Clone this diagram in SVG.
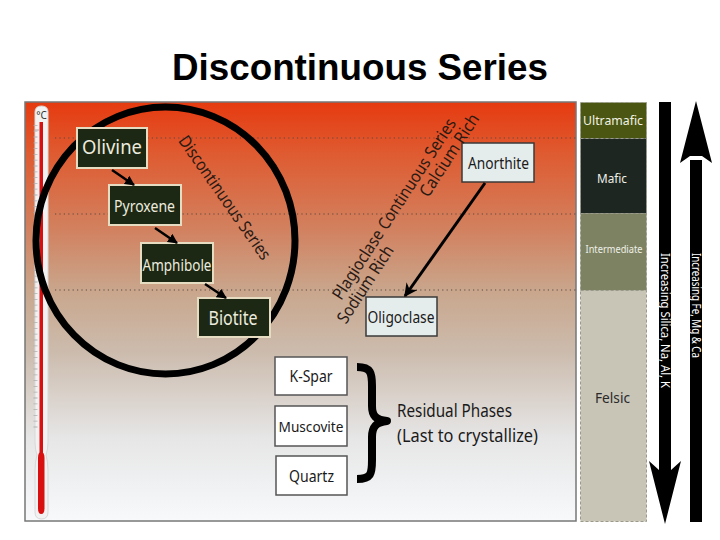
<svg xmlns="http://www.w3.org/2000/svg" width="720" height="540" viewBox="0 0 720 540">
<defs>
<linearGradient id="bg" x1="0" y1="0" x2="0" y2="1">
<stop offset="0" stop-color="#e63a10"/>
<stop offset="0.12" stop-color="#df5a30"/>
<stop offset="0.3" stop-color="#d2805e"/>
<stop offset="0.45" stop-color="#c9a68c"/>
<stop offset="0.6" stop-color="#ccbcae"/>
<stop offset="0.8" stop-color="#e6e6e6"/>
<stop offset="1" stop-color="#f7f9fb"/>
</linearGradient>
<marker id="ah" viewBox="0 0 10 10" refX="9" refY="5" markerWidth="4" markerHeight="4" orient="auto" markerUnits="strokeWidth">
<path d="M0,0 L10,5 L0,10 Z" fill="#000"/>
</marker>
<marker id="ah2" viewBox="0 0 10 10" refX="9" refY="5" markerWidth="5" markerHeight="4.5" orient="auto" markerUnits="strokeWidth">
<path d="M0,0 L10,5 L0,10 L3,5 Z" fill="#000"/>
</marker>
</defs>
<style>
.lbl{font-family:"Noto Sans","DejaVu Sans",sans-serif;text-anchor:middle}
.dark rect{fill:#1c2814;stroke:#e6dcc2;stroke-width:2}
.dark text{fill:#ecebdd}
.light rect{fill:#e5ecec;stroke:#3a3a3a;stroke-width:1.5}
.light text{fill:#1a1a1a}
.res rect{fill:#ffffff;stroke:#555;stroke-width:1.5}
.res text{fill:#1a1a1a}
.dot{stroke:#5a4a40;stroke-width:1.2;stroke-dasharray:1.2 3.2}
.band{stroke:#9a9a8a;stroke-width:1;stroke-dasharray:3 2}
.conn line{stroke:#000}
</style>
<rect width="720" height="540" fill="#ffffff"/>
<text x="360" y="80" font-family="'Liberation Sans',Arial,sans-serif" font-weight="bold" font-size="36" text-anchor="middle" textLength="376" lengthAdjust="spacingAndGlyphs" fill="#000">Discontinuous Series</text>

<g id="panel">
<rect x="25" y="102" width="551" height="419" fill="url(#bg)" stroke="#777" stroke-width="1.5"/>
<line class="dot" x1="55" y1="138" x2="576" y2="138"/>
<line class="dot" x1="55" y1="214" x2="576" y2="214"/>
<line class="dot" x1="55" y1="290" x2="576" y2="290"/>
</g>

<g id="thermometer">
<path d="M35,112 Q35,106 41.5,106 Q48,106 48,112 L48,442 Q48,450 46,455 Q48,462 48,470 L48,512 Q48,519 41.5,519 Q35,519 35,512 L35,470 Q35,462 37,455 Q35,450 35,442 Z" fill="#f2f2f2" stroke="#d8d8d8" stroke-width="1"/>
<rect x="39.5" y="122" width="3.5" height="335" fill="#d81010"/>
<path d="M38,458 Q38,452 41.2,452 Q44.5,452 44.5,458 L44.5,508 Q44.5,514 41.2,514 Q38,514 38,508 Z" fill="#d81010"/>
<line x1="35" y1="130" x2="39" y2="130" stroke="#aaa" stroke-width="1" stroke-dasharray="0"/>
<path d="M35.5,125 L35.5,430" stroke="#b0b0b0" stroke-width="4" stroke-dasharray="0.8 5" fill="none"/>
<text x="41.5" y="119" font-family="'Noto Sans',sans-serif" font-size="10" text-anchor="middle" fill="#333">°C</text>
</g>

<ellipse id="circle" cx="165.5" cy="240.5" rx="129.5" ry="133.5" fill="none" stroke="#000" stroke-width="7"/>

<g id="olivine" class="dark"><rect x="77" y="128" width="70" height="40"/><text class="lbl" x="112" y="154" font-size="19" textLength="60" lengthAdjust="spacingAndGlyphs">Olivine</text></g>
<g id="pyroxene" class="dark"><rect x="109" y="185" width="72" height="40"/><text class="lbl" x="144.5" y="212" font-size="16" textLength="61" lengthAdjust="spacingAndGlyphs">Pyroxene</text></g>
<g id="amphibole" class="dark"><rect x="141" y="243" width="72" height="40"/><text class="lbl" x="177" y="271" font-size="16" textLength="69" lengthAdjust="spacingAndGlyphs">Amphibole</text></g>
<g id="biotite" class="dark"><rect x="198" y="298" width="72" height="39"/><text class="lbl" x="233" y="325" font-size="19" textLength="49" lengthAdjust="spacingAndGlyphs">Biotite</text></g>

<g id="anorthite" class="light"><rect x="462" y="143" width="72" height="39"/><text class="lbl" x="498.5" y="169" font-size="16" textLength="61" lengthAdjust="spacingAndGlyphs">Anorthite</text></g>
<g id="oligoclase" class="light"><rect x="366" y="297" width="71" height="39"/><text class="lbl" x="401" y="323" font-size="16" textLength="67" lengthAdjust="spacingAndGlyphs">Oligoclase</text></g>

<g id="kspar" class="res"><rect x="275" y="357" width="72" height="38"/><text class="lbl" x="311" y="382" font-size="16" textLength="43" lengthAdjust="spacingAndGlyphs">K-Spar</text></g>
<g id="muscovite" class="res"><rect x="275" y="406" width="72" height="40"/><text class="lbl" x="311" y="432" font-size="15" textLength="65" lengthAdjust="spacingAndGlyphs">Muscovite</text></g>
<g id="quartz" class="res"><rect x="276" y="456" width="71" height="39"/><text class="lbl" x="311.5" y="482" font-size="16" textLength="45" lengthAdjust="spacingAndGlyphs">Quartz</text></g>

<g id="connectors" class="conn">
<line x1="112" y1="170" x2="134" y2="185" stroke-width="2.5" marker-end="url(#ah)"/>
<line x1="155" y1="228" x2="177" y2="243" stroke-width="2.5" marker-end="url(#ah)"/>
<line x1="205" y1="284" x2="226" y2="298" stroke-width="2.5" marker-end="url(#ah)"/>
<line x1="485" y1="183" x2="405" y2="296" stroke-width="3" marker-end="url(#ah2)"/>
</g>

<g id="labels" font-family="'Noto Sans','DejaVu Sans',sans-serif" fill="#2a1a14">
<text transform="translate(220,201) rotate(55)" font-size="17" text-anchor="middle" textLength="147" lengthAdjust="spacingAndGlyphs">Discontinuous Series</text>
<g transform="translate(399,212) rotate(-57)">
<text x="0" y="0" font-size="17" text-anchor="middle" textLength="212" lengthAdjust="spacingAndGlyphs">Plagioclase Continuous Series</text>
<text x="-79" y="17" font-size="17" text-anchor="middle" textLength="89" lengthAdjust="spacingAndGlyphs">Sodium Rich</text>
<text x="75" y="17" font-size="17" text-anchor="middle" textLength="95" lengthAdjust="spacingAndGlyphs">Calcium Rich</text>
</g>
</g>

<g id="brace">
<path d="M357,367 C371,367 372,373 372,386 L372,406 C372,416 376,420 387,421 C376,422 372,427 372,437 L372,460 C372,474 371,479 357,479" fill="none" stroke="#000" stroke-width="8" stroke-linejoin="round"/>
</g>
<g id="residual" font-family="'Noto Sans','DejaVu Sans',sans-serif" font-size="18" fill="#1a1a1a">
<text x="397" y="417" textLength="115" lengthAdjust="spacingAndGlyphs">Residual Phases</text>
<text x="397" y="442" textLength="141" lengthAdjust="spacingAndGlyphs">(Last to crystallize)</text>
</g>

<g id="scale" font-family="'Noto Sans','DejaVu Sans',sans-serif" text-anchor="middle">
<g id="ultramafic"><rect x="580.5" y="102.5" width="66" height="36" fill="#4a5612" class="band" stroke="#d8d8b0"/><text x="613" y="125" font-size="13" fill="#f2f2e4" textLength="60" lengthAdjust="spacingAndGlyphs">Ultramafic</text></g>
<g id="mafic"><rect x="580.5" y="138.5" width="66" height="75" fill="#1e2622" class="band" stroke="#3a403a"/><text x="612" y="183" font-size="13" fill="#f0f0e8" textLength="30" lengthAdjust="spacingAndGlyphs">Mafic</text></g>
<g id="intermediate"><rect x="580.5" y="213.5" width="66" height="77" fill="#7c8262" class="band" stroke="#5a5e48"/><text x="614" y="253" font-size="11" fill="#f0f0e8" textLength="57" lengthAdjust="spacingAndGlyphs">Intermediate</text></g>
<g id="felsic"><rect x="580.5" y="290.5" width="66" height="231" fill="#c8c4b6" class="band" stroke="#707068"/><text x="612.5" y="403" font-size="14" fill="#2a2a2a" textLength="35" lengthAdjust="spacingAndGlyphs">Felsic</text></g>
</g>

<g id="down-arrow">
<rect x="659" y="102" width="12" height="368" fill="#000"/>
<path d="M649,461 L659,470 L671,470 L681,461 L665,524 Z" fill="#000"/>
<text transform="translate(660.5,320.5) rotate(90)" font-family="'Noto Sans','DejaVu Sans',sans-serif" font-size="12" fill="#ffffff" text-anchor="middle" textLength="135" lengthAdjust="spacingAndGlyphs">Increasing Silica, Na, Al, K</text>
</g>
<g id="up-arrow">
<rect x="690" y="160" width="12" height="362" fill="#000"/>
<path d="M696,101 L712,163 L702,156 L690,156 L680,163 Z" fill="#000"/>
<text transform="translate(692,305.5) rotate(90)" font-family="'Noto Sans','DejaVu Sans',sans-serif" font-size="12" fill="#ffffff" text-anchor="middle" textLength="105" lengthAdjust="spacingAndGlyphs">Increasing Fe, Mg &amp; Ca</text>
</g>
</svg>
